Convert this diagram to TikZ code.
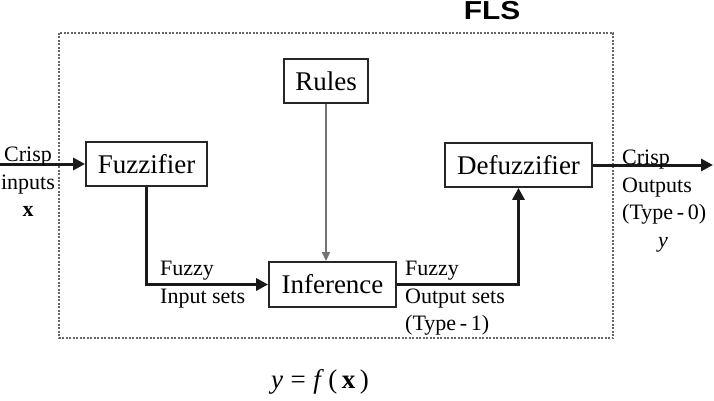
\documentclass[tikz,border=0pt]{standalone}
\usepackage{fontspec}
\setmainfont{Liberation Serif}
\newfontfamily\flsfont{Liberation Sans}
\usetikzlibrary{arrows.meta}
\tikzset{
  blockbox/.style={draw=black!85, line width=1.8pt, fill=white, inner sep=0pt,
    font=\fontsize{27}{30}\selectfont},
  lbl/.style={inner sep=0pt, font=\fontsize{22}{27.5}\selectfont},
  mainarrow/.style={line width=3pt, black!90, -{Triangle[length=12pt,width=12pt]}},
  rulearrow/.style={line width=1.5pt, black!55, -{Triangle[length=9pt,width=8pt]}},
  flsbox/.style={draw=black!60, line width=2pt, dash pattern=on 2pt off 1.5pt}
}
\begin{document}
\begin{tikzpicture}[x=1pt,y=-1pt]
\useasboundingbox (0,0) rectangle (714,401);
% FLS frame
\draw[flsbox] (59,33) rectangle (613,338);
\node[font=\flsfont\bfseries\fontsize{26}{28}\selectfont, inner sep=0pt] (fls) at (492,11) {\scalebox{1.15}[1]{FLS}};
% blocks
\node[blockbox, minimum width=84pt, minimum height=44pt] (rules) at (326,81) {Rules};
\node[blockbox, minimum width=121pt, minimum height=44pt] (fuzz) at (146.5,164) {Fuzzifier};
\node[blockbox, minimum width=127pt, minimum height=45pt] (inf) at (332.5,284.5) {Inference};
\node[blockbox, minimum width=147pt, minimum height=44pt] (defuzz) at (518.5,165) {Defuzzifier};
% end coordinates
\coordinate (in) at (0,164);
\coordinate (out) at (713,165);
% connectors
\draw[mainarrow] (in) -- (fuzz.west);
\draw[mainarrow] (fuzz.south) |- (inf.west);
\draw[mainarrow] (inf.east) -| (defuzz.south);
\draw[mainarrow] (defuzz.east) -- (out);
\draw[rulearrow] (rules.south) -- (rules.south |- inf.north);
% labels
\node[lbl, align=center, anchor=north] (lin) at (28,147) {Crisp\\inputs\\$\mathbf{x}$};
\node[lbl, align=left, anchor=north west] (lfin) at (160,261) {Fuzzy\\Input sets};
\node[lbl, align=left, anchor=north west] (lfout) at (405,261) {Fuzzy\\Output sets\\(Type\,-\,1)};
\node[lbl, align=left, anchor=north west] (lout) at (622,150) {Crisp\\Outputs\\(Type\,-\,0)\\\hspace*{36pt}\textit{y}};
\node[inner sep=0pt, font=\fontsize{27}{30}\selectfont] (eq) at (320,382) {\textit{y}\;=\;\textit{f}\,(\,\textbf{x}\,)};
\end{tikzpicture}
\end{document}
